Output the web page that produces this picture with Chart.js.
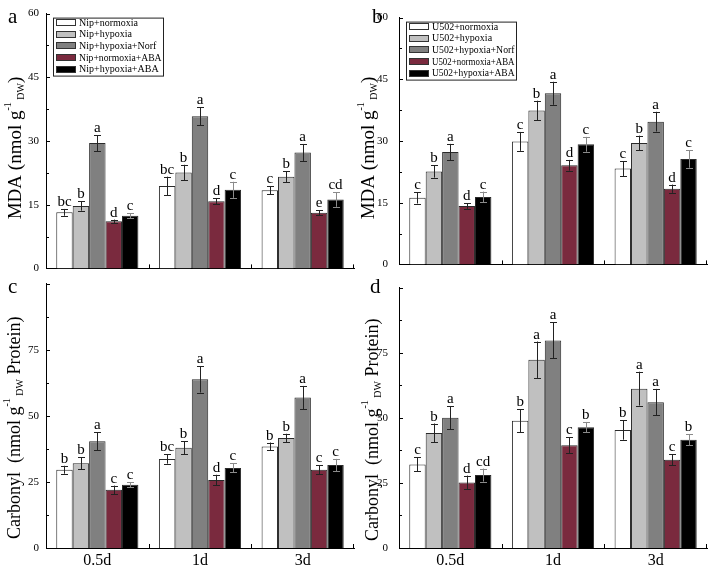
<!DOCTYPE html>
<html>
<head>
<meta charset="utf-8">
<script src="https://cdn.jsdelivr.net/npm/chart.js@4"></script>
<style>
  body { margin: 0; background: #fff; }
  #wrap { position: relative; width: 709px; height: 568px; overflow: hidden; background: #fff; }
  canvas { position: absolute; }
</style>
</head>
<body>
<div id="wrap">
  <canvas id="cA" width="360" height="282" style="left:0;top:0"></canvas>
  <canvas id="cB" width="354" height="282" style="left:355px;top:0"></canvas>
  <canvas id="cC" width="360" height="298" style="left:0;top:270px"></canvas>
  <canvas id="cD" width="354" height="298" style="left:355px;top:270px"></canvas>
</div>
<script>
// ---- data ----
const days = ['0.5d', '1d', '3d'];
const nipNames = ['Nip+normoxia', 'Nip+hypoxia', 'Nip+hypoxia+Norf', 'Nip+normoxia+ABA', 'Nip+hypoxia+ABA'];
const u502Names = ['U502+normoxia', 'U502+hypoxia', 'U502+hypoxia+Norf', 'U502+normoxia+ABA', 'U502+hypoxia+ABA'];
const fills = ['#ffffff', '#c0c0c0', '#808080', '#7a2a3e', '#000000'];

// rows = treatment, columns = day
const mdaNip = [[13.2, 19.4, 18.4], [14.7, 22.6, 21.6], [29.5, 35.8, 27.3], [11.1, 15.8, 13.1], [12.4, 18.5, 16.2]];
const mdaNipErr = [[0.8, 2.2, 0.9], [1.1, 1.8, 1.3], [1.9, 2.1, 2.0], [0.4, 0.7, 0.6], [0.6, 1.9, 1.7]];
const mdaNipSig = [['bc', 'bc', 'c'], ['b', 'b', 'b'], ['a', 'a', 'a'], ['d', 'd', 'e'], ['c', 'c', 'cd']];

const mdaU502 = [[16.2, 29.9, 23.3], [22.6, 37.4, 29.5], [27.3, 41.6, 34.7], [14.2, 24.1, 18.4], [16.4, 29.2, 25.6]];
const mdaU502Err = [[1.4, 2.3, 1.8], [1.5, 2.4, 1.8], [2.0, 2.8, 2.4], [0.7, 1.3, 1.0], [1.3, 1.8, 2.1]];
const mdaU502Sig = [['c', 'c', 'c'], ['b', 'b', 'b'], ['a', 'a', 'a'], ['d', 'd', 'd'], ['c', 'c', 'c']];

const carbNip = [[29.6, 33.7, 38.4], [32.1, 37.9, 41.6], [40.4, 63.8, 56.9], [22.0, 25.7, 29.6], [23.9, 30.3, 31.4]];
const carbNipErr = [[1.5, 1.8, 1.5], [2.3, 2.4, 1.6], [3.4, 5.0, 4.4], [1.6, 2.0, 1.7], [1.0, 1.7, 2.3]];
const carbNipSig = [['b', 'bc', 'b'], ['b', 'b', 'b'], ['a', 'a', 'a'], ['c', 'd', 'c'], ['c', 'c', 'c']];

const carbU502 = [[32.1, 48.9, 45.3], [44.2, 72.3, 61.2], [50.0, 79.7, 56.0], [25.2, 39.5, 33.9], [28.0, 46.4, 41.6]];
const carbU502Err = [[2.7, 4.4, 3.7], [3.6, 7.0, 6.5], [4.4, 6.9, 5.1], [2.6, 3.0, 2.1], [2.5, 2.0, 2.1]];
const carbU502Sig = [['c', 'b', 'b'], ['b', 'a', 'a'], ['a', 'a', 'a'], ['d', 'c', 'c'], ['cd', 'b', 'b']];

const mdaTitle = [['MDA (nmol g', 0], ['-1', 1], [' DW', -1], [')', 0]];
const carbTitle = [['Carbonyl  (nmol g', 0], ['-1', 1], [' DW', -1], [' Protein)', 0]];

const SERIF = '"Liberation Serif", "DejaVu Serif", serif';

// error bars, letters, legend, axis title, inward ticks
function extras(o) {
  return {
    id: 'extras',
    afterDraw(chart) {
      const ctx = chart.ctx;
      const xs = chart.scales.x, ys = chart.scales.y;
      const area = chart.chartArea;
      ctx.save();

      // error bars + significance letters
      chart.data.datasets.forEach((ds, i) => {
        const meta = chart.getDatasetMeta(i);
        meta.data.forEach((bar, j) => {
          const v = ds.data[j], e = o.err[i][j];
          const top = ys.getPixelForValue(v + e);
          const bot = ys.getPixelForValue(v - e);
          const x = Math.round(bar.x) + 0.5;
          ctx.strokeStyle = i === 4 ? '#8a8a8a' : '#222';
          ctx.lineWidth = 1;
          ctx.beginPath();
          ctx.moveTo(x, bot); ctx.lineTo(x, top);
          ctx.moveTo(x - 3.5, Math.round(top) + 0.5); ctx.lineTo(x + 3.5, Math.round(top) + 0.5);
          ctx.moveTo(x - 3.5, Math.round(bot) + 0.5); ctx.lineTo(x + 3.5, Math.round(bot) + 0.5);
          ctx.stroke();
          ctx.fillStyle = '#000';
          ctx.font = '15px ' + SERIF;
          ctx.textAlign = 'center';
          ctx.textBaseline = 'alphabetic';
          ctx.fillText(o.sig[i][j], bar.x, top - 3);
        });
      });

      // inward ticks on y axis
      ctx.strokeStyle = '#000';
      ctx.beginPath();
      ys.ticks.forEach(t => {
        const py = Math.round(ys.getPixelForValue(t.value)) + 0.5;
        const major = t.value % o.major === 0;
        ctx.moveTo(area.left, py);
        ctx.lineTo(area.left + (major ? 4 : 3), py);
      });
      // inward ticks on x axis at category boundaries
      const n = chart.data.labels.length;
      for (let k = 0; k <= n; k++) {
        const px = Math.round(xs.left + k * xs.width / n) + (k === n ? -0.5 : 0.5);
        ctx.moveTo(px, area.bottom);
        ctx.lineTo(px, area.bottom - 4);
      }
      ctx.stroke();

      // legend box
      if (o.legend) {
        const bx = area.left + 7.5, by = area.top + 4.5, bw = 110, bh = 58;
        ctx.strokeStyle = '#222';
        ctx.strokeRect(bx, by, bw, bh);
        chart.data.datasets.forEach((ds, i) => {
          const cy = area.top + 9 + i * 11.6;
          ctx.fillStyle = ds.backgroundColor;
          ctx.fillRect(area.left + 10, Math.round(cy - 3.5), 20, 7);
          ctx.strokeStyle = '#333';
          ctx.strokeRect(area.left + 10.5, Math.round(cy - 3.5) + 0.5, 19, 6);
          ctx.fillStyle = '#000';
          ctx.font = '10px ' + SERIF;
          ctx.textAlign = 'left';
          ctx.textBaseline = 'middle';
          ctx.fillText(ds.label, area.left + 33, cy + 0.5, bx + bw - (area.left + 33) - 2);
        });
      }

      // rotated y-axis title with super/subscripts
      const big = o.titleSize + 'px ' + SERIF, small = '10px ' + SERIF;
      let total = 0;
      o.title.forEach(([t, s]) => { ctx.font = s ? small : big; total += ctx.measureText(t).width; });
      ctx.translate(area.left - o.titleGap, (area.top + area.bottom) / 2 + o.titleShift);
      ctx.rotate(-Math.PI / 2);
      ctx.fillStyle = '#000';
      ctx.textAlign = 'left';
      ctx.textBaseline = 'alphabetic';
      let pos = -total / 2;
      o.title.forEach(([t, s]) => {
        ctx.font = s ? small : big;
        ctx.fillText(t, pos, s === 1 ? -10 : s === -1 ? 3 : 0);
        pos += ctx.measureText(t).width;
      });
      ctx.setTransform(1, 0, 0, 1, 0, 0);

      // panel letter
      ctx.font = '21px ' + SERIF;
      ctx.textAlign = 'left';
      ctx.fillText(o.letter, o.letterX, 23);
      ctx.restore();
    }
  };
}

function makeChart(id, o) {
  const datasets = o.vals.map((row, i) => ({
    label: o.names[i],
    data: row,
    backgroundColor: fills[i],
    borderColor: '#2a2a2a',
    borderWidth: 1,
    categoryPercentage: 0.8,
    barPercentage: 1
  }));
  return new Chart(document.getElementById(id), {
    type: 'bar',
    data: { labels: days, datasets: datasets },
    options: {
      responsive: false,
      animation: false,
      layout: { autoPadding: false, padding: { top: 6, right: o.padR, left: 0, bottom: 0 } },
      plugins: { legend: { display: false }, tooltip: { enabled: false } },
      scales: {
        x: {
          grid: { display: false, drawTicks: false },
          border: { color: '#000', width: 1 },
          ticks: { display: o.showX, color: '#000', padding: 3, font: { family: SERIF, size: 16 } },
          afterFit: s => { s.height = o.xH; }
        },
        y: {
          min: 0,
          max: o.max,
          grid: { display: false, drawTicks: false },
          border: { color: '#000', width: 1 },
          ticks: {
            stepSize: o.step,
            autoSkip: false,
            color: '#000',
            padding: o.tickPad,
            font: { family: SERIF, size: 11 },
            callback: v => (v % o.major === 0 && v <= o.maxLabel) ? v : ''
          },
          afterFit: s => { s.width = o.yW; }
        }
      }
    },
    plugins: [extras(o)]
  });
}

makeChart('cA', {
  vals: mdaNip, err: mdaNipErr, sig: mdaNipSig, names: nipNames,
  max: 60, step: 7.5, major: 15, maxLabel: 60, yW: 46, padR: 6, xH: 6, showX: false, tickPad: 7,
  legend: true, title: mdaTitle, titleSize: 19, titleGap: 25, titleShift: 7, letter: 'a', letterX: 8
});
makeChart('cB', {
  vals: mdaU502, err: mdaU502Err, sig: mdaU502Sig, names: u502Names,
  max: 60, step: 7.5, major: 15, maxLabel: 60, yW: 44, padR: 2, xH: 6, showX: false, tickPad: 11,
  legend: true, title: mdaTitle, titleSize: 19, titleGap: 25, titleShift: 7, letter: 'b', letterX: 17
});
makeChart('cC', {
  vals: carbNip, err: carbNipErr, sig: carbNipSig, names: nipNames,
  max: 100, step: 12.5, major: 25, maxLabel: 75, yW: 46, padR: 6, xH: 20, showX: true, tickPad: 7,
  legend: false, title: carbTitle, titleSize: 18, titleGap: 26, titleShift: 12, letter: 'c', letterX: 8
});
makeChart('cD', {
  vals: carbU502, err: carbU502Err, sig: carbU502Sig, names: u502Names,
  max: 100, step: 12.5, major: 25, maxLabel: 75, yW: 44, padR: 2, xH: 20, showX: true, tickPad: 11,
  legend: false, title: carbTitle, titleSize: 18, titleGap: 21, titleShift: 12, letter: 'd', letterX: 15
});
</script>
</body>
</html>
